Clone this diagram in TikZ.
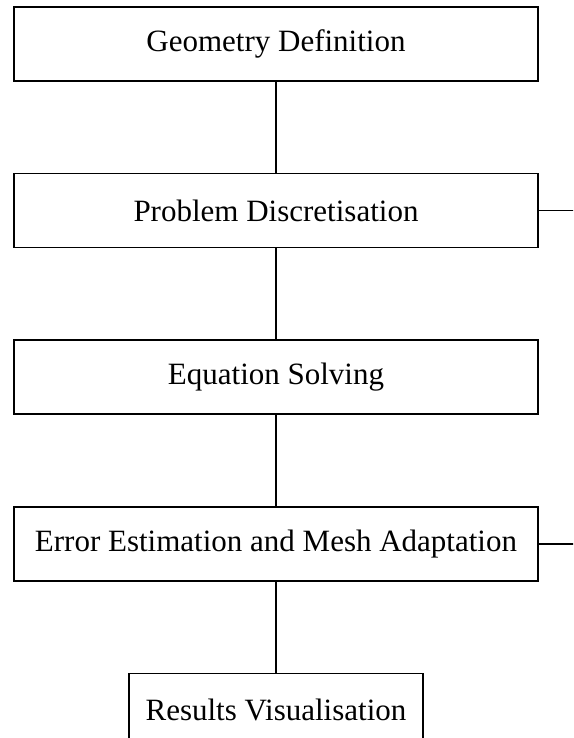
\documentclass[tikz,border=0pt]{standalone}
\usepackage{fontspec}
\setmainfont{Liberation Serif}
\usetikzlibrary{positioning}

\begin{document}
\begin{tikzpicture}[x=1pt,y=1pt,
    stage/.style={draw, line width=1.6pt, minimum height=74pt,
      font=\fontsize{31}{36}\selectfont, inner sep=0pt},
    link/.style={line width=1.6pt}]

      % Definitions
      \pgfmathsetmacro{\W}{524}
      \pgfmathsetmacro{\w}{294}
      \pgfmathsetmacro{\g}{91}

      % frame
      \useasboundingbox (0,0) rectangle (573,-738);
      \clip (0,0) rectangle (573,-738);

      % stages
      \node[stage, minimum width=\W] (geom) at (276,-44) {Geometry Definition};
      \node[stage, minimum width=\W, below=\g of geom] (disc) {Problem Discretisation};
      \node[stage, minimum width=\W, below=\g of disc] (solve) {Equation Solving};
      \node[stage, minimum width=\W, below=\g of solve] (adapt)
        {Error Estimation and Mesh Adaptation};
      \node[stage, minimum width=\w, below=\g of adapt] (vis) {Results Visualisation};

      % connectors
      \draw[link] (geom) -- (disc);
      \draw[link] (disc) -- (solve);
      \draw[link] (solve) -- (adapt);
      \draw[link] (adapt) -- (vis);

      % side exits
      \coordinate[right=35 of disc.east] (discout);
      \coordinate[right=35 of adapt.east] (adaptout);
      \draw[link] (disc.east) -- (discout);
      \draw[link] (adapt.east) -- (adaptout);
\end{tikzpicture}
\end{document}
